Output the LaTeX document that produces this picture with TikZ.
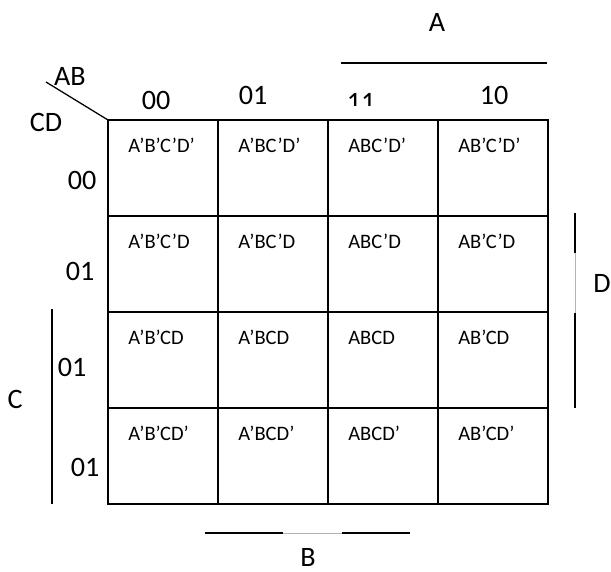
\documentclass[tikz,border=0pt]{standalone}
\usepackage{fontspec}
\setmainfont{Carlito}
\usepackage{tikz}

\begin{document}
\begin{tikzpicture}[scale=0.25]
\tikzstyle{every node}+=[inner sep=0pt]
\tikzstyle{lbl}=[font=\fontsize{20}{24}\selectfont]
\tikzstyle{term}=[anchor=base west,font=\fontsize{14.6}{17}\selectfont]
\tikzstyle{bar}=[black,line width=1.1pt]
\useasboundingbox (0,0) rectangle (61.1,-57.1);
% grid
\draw [black,line width=1.2pt] (10.8,-12) rectangle (54.8,-50.4);
\draw [black,line width=1.2pt] (21.8,-12) -- (21.8,-50.4);
\draw [black,line width=1.2pt] (32.8,-12) -- (32.8,-50.4);
\draw [black,line width=1.2pt] (43.8,-12) -- (43.8,-50.4);
\draw [black,line width=1.2pt] (10.8,-21.6) -- (54.8,-21.6);
\draw [black,line width=1.2pt] (10.8,-31.2) -- (54.8,-31.2);
\draw [black,line width=1.2pt] (10.8,-40.8) -- (54.8,-40.8);
% corner
\draw [black,line width=0.9pt] (4.6,-8.2) -- (10.8,-12);
\node [lbl] (ab) at (7.0,-7.6) {AB};
\node [lbl] (cd) at (4.6,-12.2) {CD};
% column heads
\node [lbl] (c00) at (15.6,-10.0) {00};
\node [lbl] (c01) at (25.3,-9.5) {01};
\begin{scope}
\clip (33.5,-8) rectangle (39,-10.5);
\node [lbl] (c11) at (36.1,-10.2) {11};
\end{scope}
\node [lbl] (c10) at (49.4,-9.5) {10};
% row heads
\node [lbl] (r00) at (8.2,-18.0) {00};
\node [lbl] (r01) at (8.0,-27.1) {01};
\node [lbl] (r11) at (7.2,-36.7) {01};
\node [lbl] (r10) at (8.5,-46.7) {01};
% cells
\node [term] (m0) at (12.8,-15.2) {A’B’C’D’};
\node [term] (m4) at (23.8,-15.2) {A’BC’D’};
\node [term] (m12) at (34.8,-15.2) {ABC’D’};
\node [term] (m8) at (45.8,-15.2) {AB’C’D’};
\node [term] (m1) at (12.8,-24.8) {A’B’C’D};
\node [term] (m5) at (23.8,-24.8) {A’BC’D};
\node [term] (m13) at (34.8,-24.8) {ABC’D};
\node [term] (m9) at (45.8,-24.8) {AB’C’D};
\node [term] (m3) at (12.8,-34.4) {A’B’CD};
\node [term] (m7) at (23.8,-34.4) {A’BCD};
\node [term] (m15) at (34.8,-34.4) {ABCD};
\node [term] (m11) at (45.8,-34.4) {AB’CD};
\node [term] (m2) at (12.8,-44.0) {A’B’CD’};
\node [term] (m6) at (23.8,-44.0) {A’BCD’};
\node [term] (m14) at (34.8,-44.0) {ABCD’};
\node [term] (m10) at (45.8,-44.0) {AB’CD’};
% variable bars
\draw [bar] (34.1,-6.3) -- (54.7,-6.3);
\node [lbl] (va) at (43.7,-2.2) {A};
\draw [bar] (20.5,-53.3) -- (28.3,-53.3);
\draw [gray!60,line width=0.5pt] (28.3,-53.3) -- (34.2,-53.3);
\draw [bar] (34.2,-53.3) -- (41.0,-53.3);
\node [lbl] (vb) at (30.8,-55.7) {B};
\draw [bar] (5.2,-30.9) -- (5.2,-50.4);
\node [lbl] (vc) at (1.5,-39.9) {C};
\draw [bar] (57.5,-21.3) -- (57.5,-25.3);
\draw [gray!60,line width=0.5pt] (57.5,-25.3) -- (57.5,-31.3);
\draw [bar] (57.5,-31.3) -- (57.5,-40.8);
\node [lbl] (vd) at (60.2,-28.3) {D};
\end{tikzpicture}
\end{document}
